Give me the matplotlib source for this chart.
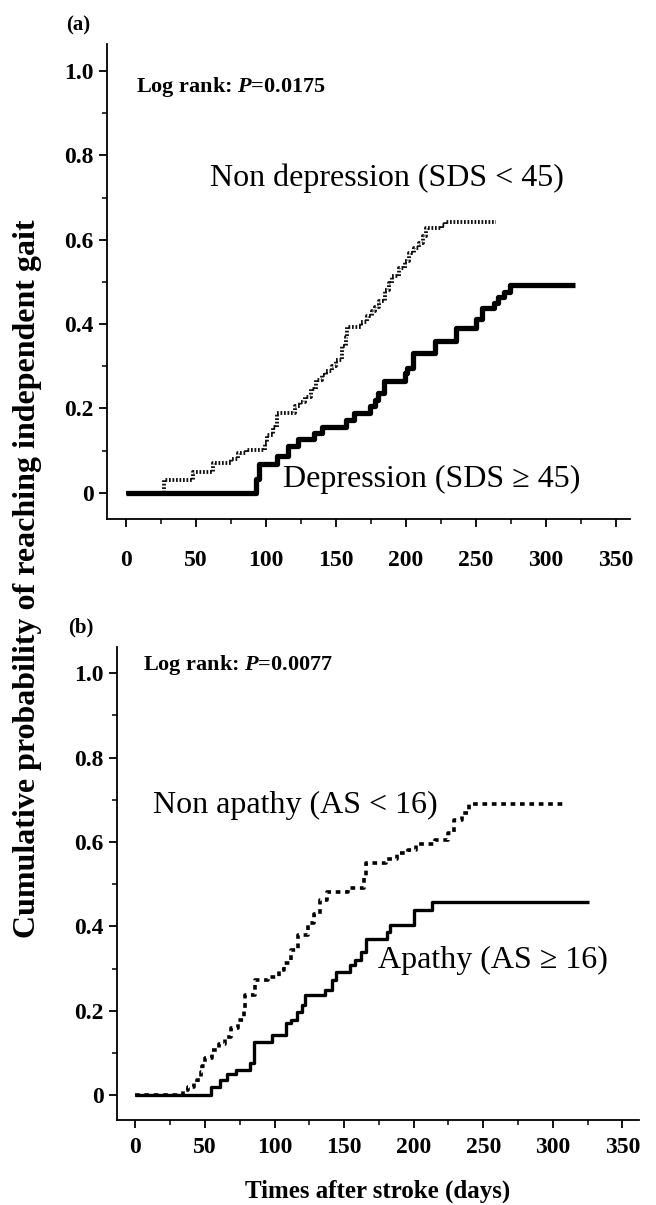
"""Kaplan-Meier style curves: independent gait after stroke, by depression and apathy."""

import matplotlib
matplotlib.use("Agg")
import matplotlib.pyplot as plt
from matplotlib.ticker import MultipleLocator

SERIF = ["Liberation Serif", "DejaVu Serif"]
plt.rcParams["font.family"] = SERIF
plt.rcParams["mathtext.fontset"] = "custom"
plt.rcParams["mathtext.rm"] = "Liberation Serif:bold"
plt.rcParams["mathtext.it"] = "Liberation Serif:italic:bold"

# panel (a): depression
depr_days = [0, 93, 95, 108, 116, 123, 134, 140, 157, 163, 174, 178, 180, 184,
             199, 201, 205, 221, 236, 250, 254, 263, 266, 270, 274, 321]
depr_prob = [0, 0.034, 0.068, 0.087, 0.110, 0.128, 0.142, 0.157, 0.173, 0.190,
             0.205, 0.220, 0.236, 0.264, 0.283, 0.295, 0.332, 0.360, 0.390,
             0.413, 0.437, 0.449, 0.465, 0.477, 0.492, 0.492]

nondepr_days = [0, 27, 48, 62, 75, 80, 86, 99, 101, 105, 108, 121, 124, 128,
                132, 136, 140, 143, 147, 150, 154, 157, 158, 168, 172, 176,
                178, 181, 185, 188, 190, 195, 199, 202, 206, 209, 212, 214,
                226, 228, 264]
nondepr_prob = [0, 0.031, 0.050, 0.070, 0.080, 0.094, 0.102, 0.118, 0.138,
                0.157, 0.189, 0.205, 0.215, 0.228, 0.245, 0.268, 0.280, 0.290,
                0.300, 0.315, 0.347, 0.370, 0.392, 0.405, 0.420, 0.430, 0.441,
                0.455, 0.481, 0.497, 0.513, 0.533, 0.550, 0.568, 0.580, 0.592,
                0.610, 0.627, 0.635, 0.643, 0.643]

# panel (b): apathy
apathy_days = [0, 54, 61, 66, 72, 82, 85, 98, 108, 112, 116, 120, 122, 136,
               141, 144, 154, 158, 162, 166, 181, 183, 200, 213, 326]
apathy_prob = [0, 0.020, 0.036, 0.051, 0.059, 0.075, 0.126, 0.142, 0.170,
               0.178, 0.197, 0.213, 0.237, 0.249, 0.273, 0.292, 0.308, 0.320,
               0.340, 0.371, 0.387, 0.403, 0.438, 0.458, 0.458]

nonapathy_days = [0, 34, 38, 42, 44, 47, 48, 50, 55, 60, 64, 69, 74, 78, 79,
                  86, 95, 103, 107, 112, 117, 124, 128, 133, 138, 153, 164,
                  166, 180, 188, 196, 202, 215, 225, 229, 235, 240, 307]
nonapathy_prob = [0, 0.012, 0.020, 0.028, 0.036, 0.055, 0.070, 0.087, 0.107,
                  0.122, 0.138, 0.158, 0.178, 0.201, 0.237, 0.273, 0.280,
                  0.296, 0.312, 0.344, 0.379, 0.407, 0.430, 0.462, 0.482,
                  0.490, 0.520, 0.549, 0.560, 0.573, 0.580, 0.595, 0.604,
                  0.620, 0.652, 0.668, 0.690, 0.690]

y_ticks = [0, 0.2, 0.4, 0.6, 0.8, 1.0]
y_tick_labels = ["0", "0.2", "0.4", "0.6", "0.8", "1.0"]
x_ticks = [0, 50, 100, 150, 200, 250, 300, 350]

W, H = 656, 1205


def style_axis(ax, xlim, ylim, xpad):
    for side in ("top", "right"):
        ax.spines[side].set_visible(False)
    for side in ("left", "bottom"):
        ax.spines[side].set_linewidth(1.3)
    ax.set_xlim(*xlim)
    ax.set_ylim(*ylim)
    ax.set_xticks(x_ticks)
    ax.xaxis.set_minor_locator(MultipleLocator(25))
    ax.set_yticks(y_ticks)
    ax.set_yticklabels(y_tick_labels)
    ax.yaxis.set_minor_locator(MultipleLocator(0.1))
    ax.tick_params(which="major", direction="out", length=6, width=1.3,
                   labelsize=17)
    ax.tick_params(which="minor", direction="out", length=3.5, width=1.1)
    ax.tick_params(axis="x", which="major", pad=xpad)
    ax.tick_params(axis="y", which="major", pad=3.5)
    for lbl in ax.get_xticklabels() + ax.get_yticklabels():
        lbl.set_fontweight("bold")


fig = plt.figure(figsize=(W / 100, H / 100), dpi=100)

# ---- (a)
ax_a = fig.add_axes([107 / W, 1 - 519 / H, (630 - 107) / W, (519 - 44) / H])
ax_a.step(nondepr_days, nondepr_prob, where="post", color="#111111", lw=2.8,
          linestyle=(0, (0.45, 0.45)), dash_capstyle="butt", zorder=2)
ax_a.step(depr_days, depr_prob, where="post", color="black", lw=3.8,
          solid_capstyle="butt", zorder=3)
style_axis(ax_a, (-13.6, 360), (-0.062, 1.064), xpad=16)

ax_a.text(7, 0.962, r"Log rank: $P$=0.0175", fontsize=16, fontweight="bold",
          va="center", ha="left")
ax_a.text(60, 0.746, "Non depression (SDS < 45)", fontsize=23,
          va="center", ha="left")
ax_a.text(112, 0.031, "Depression (SDS \u2265 45)", fontsize=23,
          va="center", ha="left")

# ---- (b): dotted drawn over the solid one here
ax_b = fig.add_axes([117 / W, 1 - 1120 / H, (639 - 117) / W, (1120 - 647) / H])
ax_b.step(apathy_days, apathy_prob, where="post", color="black", lw=2.4,
          solid_capstyle="butt", zorder=2)
ax_b.step(nonapathy_days, nonapathy_prob, where="post", color="black", lw=2.6,
          linestyle=(0, (1.3, 1.3)), dash_capstyle="butt", zorder=3)
style_axis(ax_b, (-13.3, 362), (-0.059, 1.062), xpad=6)

ax_b.text(5.5, 1.02, r"Log rank: $P$=0.0077", fontsize=16, fontweight="bold",
          va="center", ha="left")
ax_b.text(12.6, 0.687, "Non apathy (AS < 16)", fontsize=23,
          va="center", ha="left")
ax_b.text(174, 0.32, "Apathy (AS \u2265 16)", fontsize=23,
          va="center", ha="left")
ax_b.set_xlabel("Times after stroke (days)", fontsize=18, fontweight="bold",
                labelpad=16)

fig.text(78 / W, 1 - 25 / H, "(a)", fontsize=15, fontweight="bold",
         ha="center", va="center")
fig.text(81 / W, 1 - 627 / H, "(b)", fontsize=15, fontweight="bold",
         ha="center", va="center")
fig.text(28 / W, 1 - 579 / H,
         "Cumulative probability of reaching independent gait",
         fontsize=23, fontweight="bold", rotation=90, ha="center",
         va="center")

fig.savefig("out.png", dpi=100)
